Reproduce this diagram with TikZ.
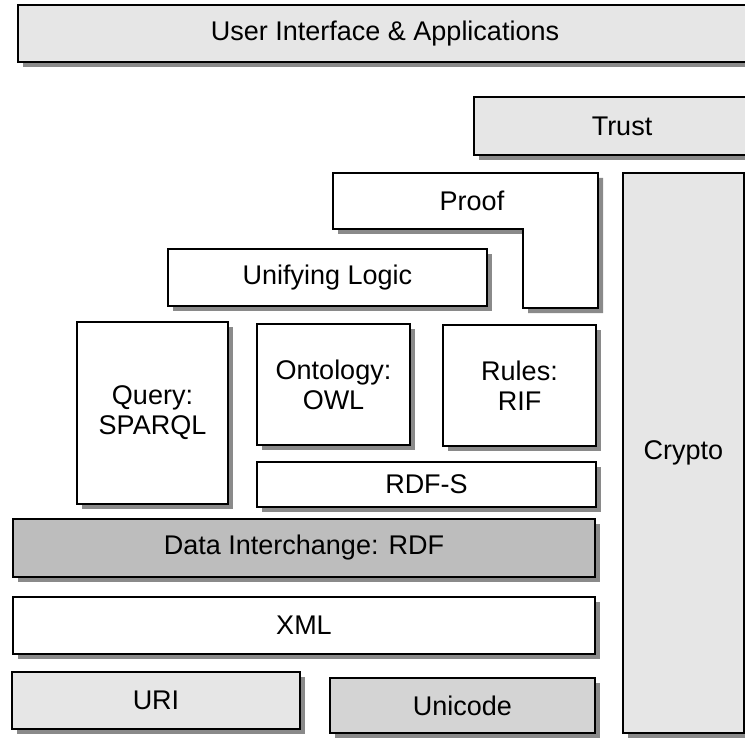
\documentclass[tikz,border=0pt]{standalone}
\usepackage{fontspec}
\setmainfont{Liberation Sans}
\usetikzlibrary{shadows}
\definecolor{lightfill}{HTML}{E6E6E6}
\definecolor{darkfill}{HTML}{BDBDBD}
\definecolor{midfill}{HTML}{D4D4D4}
\definecolor{shadowgray}{HTML}{8A8A8A}
\tikzset{
  layer/.style={draw=black, line width=2.2pt, rectangle, inner sep=0pt, align=center,
    font=\fontsize{27}{30}\selectfont,
    drop shadow={shadow xshift=5pt, shadow yshift=-5pt, fill=shadowgray, opacity=1}},
  plain/.style={layer, fill=white},
  light/.style={layer, fill=lightfill},
  dark/.style={layer, fill=darkfill},
  mid/.style={layer, fill=midfill},
  label/.style={font=\fontsize{27}{30}\selectfont, inner sep=0pt}
}
\begin{document}
\begin{tikzpicture}[x=1pt,y=-1pt]
\useasboundingbox (0,0) rectangle (745,741);
\clip (0,0) rectangle (745,741);
\fill[white] (0,0) rectangle (745,741);
% User interface
\node[light, minimum width=734pt, minimum height=57pt] (ui) at (385,33.5) {User Interface \& Applications};
% Trust
\node[light, minimum width=296pt, minimum height=58pt] (trust) at (622,126) {Trust};
% Crypto
\node[light, minimum width=121pt, minimum height=560pt] (crypto) at (683.5,453) {Crypto};
% Proof (L-shape)
\fill[shadowgray] (338,178) -- (603,178) -- (603,313) -- (528,313) -- (528,234) -- (338,234) -- cycle;
\filldraw[fill=white, draw=black, line width=2.2pt, line join=miter] (333,173) -- (598,173) -- (598,308) -- (523,308) -- (523,229) -- (333,229) -- cycle;
\node[label] (proof) at (472,201) {Proof};
% Unifying Logic
\node[plain, minimum width=319pt, minimum height=57pt] (logic) at (327.5,277.5) {Unifying Logic};
% Query
\node[plain, minimum width=151pt, minimum height=182pt] (query) at (152.5,413) {Query:\\SPARQL};
% Ontology
\node[plain, minimum width=153pt, minimum height=121pt] (onto) at (333.5,384.5) {Ontology:\\OWL};
% Rules
\node[plain, minimum width=153pt, minimum height=121pt] (rules) at (519.5,385.5) {Rules:\\RIF};
% RDF-S
\node[plain, minimum width=339pt, minimum height=45pt] (rdfs) at (426.5,484.5) {RDF-S};
% Data interchange
\node[dark, minimum width=582pt, minimum height=58pt] (rdf) at (304,548) {Data Interchange: RDF};
% XML
\node[plain, minimum width=582pt, minimum height=57pt] (xml) at (304,625.5) {XML};
% URI
\node[light, minimum width=288pt, minimum height=57pt] (uri) at (156,700.5) {URI};
% Unicode
\node[mid, minimum width=265pt, minimum height=55pt] (unicode) at (462.5,705.5) {Unicode};
\end{tikzpicture}
\end{document}
